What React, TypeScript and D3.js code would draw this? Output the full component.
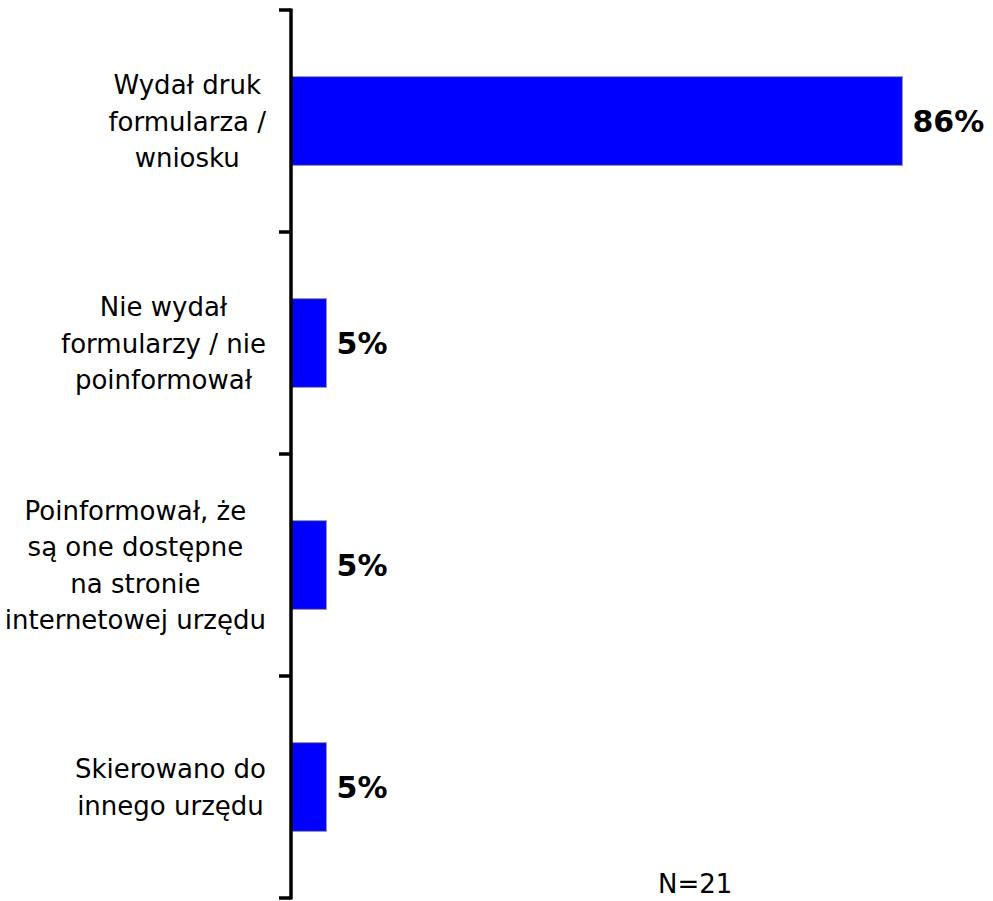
import React, { useEffect, useRef } from "react";
import * as d3 from "d3";

// Survey answers and their shares (%)
const categories: string[][] = [
  ["Wydał druk", "formularza /", "wniosku"],
  ["Nie wydał", "formularzy / nie", "poinformował"],
  ["Poinformował, że", "są one dostępne", "na stronie", "internetowej urzędu"],
  ["Skierowano do", "innego urzędu"],
];
const values: number[] = [86, 5, 5, 5];
const sampleNote = "N=21";

const W = 993;
const H = 901;
const FONT = "'DejaVu Sans', Verdana, sans-serif";

export default function App() {
  const ref = useRef<SVGSVGElement | null>(null);

  useEffect(() => {
    const svg = d3.select(ref.current);
    svg.selectAll("*").remove();

    const ids = d3.range(categories.length).map(String);
    const y = d3
      .scaleBand<string>()
      .domain(ids)
      .range([10, 898])
      .paddingInner(0.6)
      .paddingOuter(0.3);
    const x = d3.scaleLinear().domain([0, 100]).range([291, 291 + 711]);

    const step = y.step();
    const top = 10;

    // bars
    svg
      .append("g")
      .selectAll("rect")
      .data(values)
      .join("rect")
      .attr("x", x(0))
      .attr("y", (_, i) => y(String(i))!)
      .attr("width", (d) => x(d) - x(0))
      .attr("height", y.bandwidth())
      .attr("fill", "#0000ff")
      .attr("stroke", "#9a9a9a")
      .attr("stroke-width", 1);

    // value labels
    svg
      .append("g")
      .selectAll("text")
      .data(values)
      .join("text")
      .attr("x", (d) => x(d) + 10)
      .attr("y", (_, i) => y(String(i))! + y.bandwidth() / 2 + 11)
      .attr("font-family", FONT)
      .attr("font-weight", "bold")
      .attr("font-size", 30)
      .attr("fill", "#000")
      .text((d) => `${d}%`);

    // category axis
    const axis = svg.append("g");
    axis
      .append("line")
      .attr("x1", x(0))
      .attr("x2", x(0))
      .attr("y1", top - 1.5)
      .attr("y2", top + step * categories.length + 1.5)
      .attr("stroke", "#000")
      .attr("stroke-width", 3.5);
    axis
      .selectAll("line.tick")
      .data(d3.range(categories.length + 1))
      .join("line")
      .attr("class", "tick")
      .attr("x1", x(0) - 12)
      .attr("x2", x(0))
      .attr("y1", (i) => top + i * step)
      .attr("y2", (i) => top + i * step)
      .attr("stroke", "#000")
      .attr("stroke-width", 3.5);

    // category labels: lines centred within their block, block right-aligned
    const rightEdge = 266;
    const lineH = 36.5;
    categories.forEach((lines, i) => {
      const cy = y(String(i))! + y.bandwidth() / 2;
      const g = svg.append("g");
      const texts = g
        .selectAll("text")
        .data(lines)
        .join("text")
        .attr("font-family", FONT)
        .attr("font-size", 26)
        .attr("fill", "#000")
        .attr("text-anchor", "middle")
        .attr("y", (_, k) => cy + (k - (lines.length - 1) / 2) * lineH + 9.5)
        .text((d) => d);
      let maxW = 0;
      texts.each(function () {
        maxW = Math.max(maxW, (this as SVGTextElement).getComputedTextLength());
      });
      texts.attr("x", rightEdge - maxW / 2);
    });

    // sample size note
    svg
      .append("text")
      .attr("x", 658)
      .attr("y", 893)
      .attr("font-family", FONT)
      .attr("font-size", 26)
      .attr("fill", "#000")
      .text(sampleNote);
  }, []);

  return (
    <svg
      ref={ref}
      width={W}
      height={H}
      style={{ position: "absolute", left: 0, top: 0, background: "#fff" }}
    />
  );
}
